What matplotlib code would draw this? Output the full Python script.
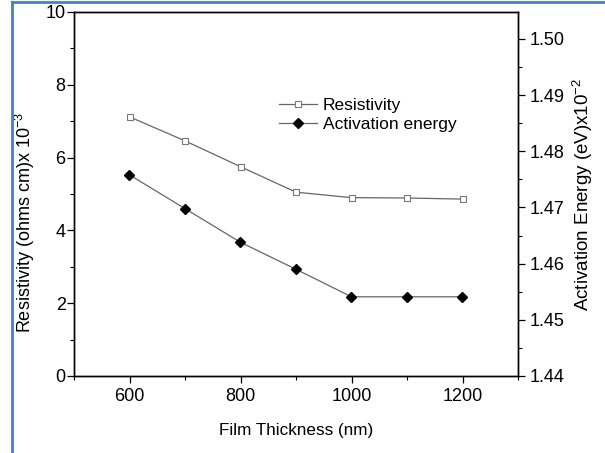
import matplotlib.pyplot as plt
from matplotlib.lines import Line2D
from matplotlib.ticker import MultipleLocator

plt.rcParams['font.family'] = ['Liberation Sans', 'DejaVu Sans']
plt.rcParams['mathtext.default'] = 'regular'

# данные
thickness = [600, 700, 800, 900, 1000, 1100, 1200]
resistivity = [7.12, 6.46, 5.75, 5.05, 4.90, 4.89, 4.86]
activation = [1.4758, 1.4698, 1.4638, 1.4590, 1.4541, 1.4541, 1.4541]

fig = plt.figure(figsize=(6.05, 4.53), dpi=100)
ax = fig.add_axes([74 / 605, 1 - 376 / 453, (518 - 74) / 605, (376 - 12) / 453])
ax2 = ax.twinx()

line_col = '#666666'
l1, = ax.plot(thickness, resistivity, color=line_col, lw=0.9, marker='s', ms=4.5,
              mfc='white', mec='#777777', mew=0.8, label='Resistivity')
l2, = ax2.plot(thickness, activation, color=line_col, lw=0.9, marker='D', ms=5,
               mfc='black', mec='black', label='Activation energy')

ax.set_xlim(500, 1300)
ax.set_ylim(0, 10)
ax2.set_ylim(1.44, 1.5048)

ax.xaxis.set_major_locator(MultipleLocator(200))
ax.xaxis.set_minor_locator(MultipleLocator(100))
ax.yaxis.set_major_locator(MultipleLocator(2))
ax.yaxis.set_minor_locator(MultipleLocator(1))
ax2.yaxis.set_major_locator(MultipleLocator(0.01))
ax2.yaxis.set_minor_locator(MultipleLocator(0.005))
ax2.yaxis.set_major_formatter(plt.FormatStrFormatter('%.2f'))

for a in (ax, ax2):
    a.tick_params(which='major', direction='out', length=5, width=0.9, labelsize=13)
    a.tick_params(which='minor', direction='out', length=3, width=0.8)
    for s in a.spines.values():
        s.set_linewidth(1.0)
ax.tick_params(axis='x', which='both', top=False)
ax.tick_params(axis='y', which='major', pad=1)

ax.set_xlabel('Film Thickness (nm)', fontsize=12.3)
ax.set_ylabel('Resistivity (ohms cm)x 10$^{-3}$', fontsize=13)
ax2.set_ylabel('Activation Energy (eV)x10$^{-2}$', fontsize=13.5)
ax.xaxis.set_label_coords(0.5, -0.129)
ax.yaxis.set_label_coords(-0.083, 0.423)
ax2.yaxis.set_label_coords(1.119, 0.5)

ax.legend(handles=[l1, l2], loc='upper left', bbox_to_anchor=(0.462, 0.765),
          frameon=False, fontsize=12.5, handlelength=2.2, handletextpad=0.3,
          labelspacing=0.25, borderaxespad=0, borderpad=0)

# синяя рамка скриншота
fig.add_artist(Line2D([12 / 605, 12 / 605], [0, 1 - 2 / 453], color='#4a7fc0', lw=2))
fig.add_artist(Line2D([12 / 605, 1], [1 - 2 / 453, 1 - 2 / 453], color='#4a7fc0', lw=2))

fig.savefig('out.png', dpi=100)
